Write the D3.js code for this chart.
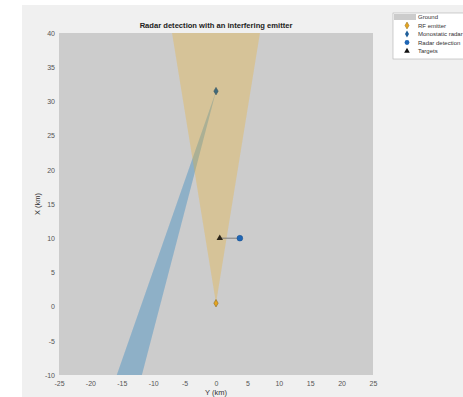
<!DOCTYPE html>
<html><head><meta charset="utf-8">
<script src="https://cdn.jsdelivr.net/npm/d3@7"></script>
<style>html,body{margin:0;padding:0;background:#fff;}svg{display:block;}</style>
</head><body><svg id="c" width="463" height="397"></svg>
<script>
// ---- data (Y = horizontal km, X = vertical km) ----
const title = "Radar detection with an interfering emitter";
const yTicks = [-25,-20,-15,-10,-5,0,5,10,15,20,25];   // horizontal axis (Y km)
const xTicks = [-10,-5,0,5,10,15,20,25,30,35,40];      // vertical axis (X km)
const emitterBeam = [[0,0.5],[-7,40],[7,40]];           // [Y, X]
const radarBeam = [[0,31.5],[-15.8,-10],[-11.8,-10]];
const emitterPos = [0,0.5];
const radarPos = [0,31.5];
const targetPos = [0.6,10];
const detectionPos = [3.8,10];
const legendLabels = ["Ground","RF emitter","Monostatic radar","Radar detection","Targets"];

const svg = d3.select("#c");
const font = "'Liberation Sans', Arial, sans-serif";
svg.append("rect").attr("x",22).attr("y",5).attr("width",441).attr("height",392).attr("fill","#f0f0f0");

const L=59,R=373,T=33,B=375;
const sx = d3.scaleLinear().domain([-25,25]).range([L,R]);
const sy = d3.scaleLinear().domain([-10,40]).range([B,T]);

svg.append("clipPath").attr("id","pc").append("rect").attr("x",L).attr("y",T).attr("width",R-L).attr("height",B-T);
const plot = svg.append("g").attr("clip-path","url(#pc)");
plot.append("rect").attr("x",L).attr("y",T).attr("width",R-L).attr("height",B-T).attr("fill","#cccccc");

const line = d3.line().x(d=>sx(d[0])).y(d=>sy(d[1]));
plot.append("path").attr("d",line(radarBeam)+"Z").attr("fill","rgba(0,114,189,0.3)");
plot.append("path").attr("d",line(emitterBeam)+"Z").attr("fill","rgba(237,177,32,0.3)");

plot.append("path").attr("d",line([targetPos,detectionPos])).attr("stroke","#7f7f7f").attr("stroke-width",1).attr("fill","none");

const diamond = d3.symbol().type(d3.symbolDiamond).size(16);
const tri = d3.symbol().type(d3.symbolTriangle).size(18);
const circ = d3.symbol().type(d3.symbolCircle).size(26);
plot.append("path").attr("d",diamond()).attr("transform",`translate(${sx(emitterPos[0])},${sy(emitterPos[1])})`).attr("fill","#e6a51f").attr("stroke","#8a6a20").attr("stroke-width",0.6);
plot.append("path").attr("d",diamond()).attr("transform",`translate(${sx(radarPos[0])},${sy(radarPos[1])})`).attr("fill","#3f6a7c").attr("stroke","#35505c").attr("stroke-width",0.6);
plot.append("path").attr("d",tri()).attr("transform",`translate(${sx(targetPos[0])},${sy(targetPos[1])})`).attr("fill","#2a2418");
plot.append("path").attr("d",circ()).attr("transform",`translate(${sx(detectionPos[0])},${sy(detectionPos[1])})`).attr("fill","#1f66b5").attr("stroke","#1a4f8a").attr("stroke-width",0.5);

const fmt = d=>String(d);
const xa = svg.append("g").attr("transform",`translate(0,${B})`).call(d3.axisBottom(sx).tickValues(yTicks).tickSize(0).tickPadding(6).tickFormat(fmt));
const ya = svg.append("g").attr("transform",`translate(${L},0)`).call(d3.axisLeft(sy).tickValues(xTicks).tickSize(0).tickPadding(4).tickFormat(fmt));
[xa,ya].forEach(a=>{a.select(".domain").remove();a.selectAll("text").attr("font-family",font).attr("font-size",7).attr("fill","#555");});

svg.append("text").attr("x",216).attr("y",395).attr("text-anchor","middle").attr("font-family",font).attr("font-size",7.5).attr("fill","#333").text("Y (km)");
svg.append("text").attr("transform","translate(40,204) rotate(-90)").attr("text-anchor","middle").attr("font-family",font).attr("font-size",7.5).attr("fill","#333").text("X (km)");
svg.append("text").attr("x",216).attr("y",28).attr("text-anchor","middle").attr("font-family",font).attr("font-size",7.6).attr("font-weight","bold").attr("fill","#222").text(title);

const lg = svg.append("g");
lg.append("rect").attr("x",393).attr("y",13).attr("width",80).attr("height",46).attr("fill","#fff").attr("stroke","#b0b0b0").attr("stroke-width",0.6);
const ly = [17,25.5,34,42.5,51];
legendLabels.forEach((t,i)=>{
  lg.append("text").attr("x",418).attr("y",ly[i]+2.3).attr("font-family",font).attr("font-size",6).attr("fill","#333").text(t);
});
lg.append("rect").attr("x",394).attr("y",14).attr("width",22).attr("height",6).attr("fill","#cccccc");
lg.append("path").attr("d",diamond.size(14)()).attr("transform",`translate(407,${ly[1]})`).attr("fill","#e6a51f").attr("stroke","#8a6a20").attr("stroke-width",0.5);
lg.append("path").attr("d",diamond.size(14)()).attr("transform",`translate(407,${ly[2]})`).attr("fill","#1f5f9a");
lg.append("path").attr("d",circ.size(18)()).attr("transform",`translate(407,${ly[3]})`).attr("fill","#1f66b5");
lg.append("path").attr("d",tri.size(14)()).attr("transform",`translate(407,${ly[4]})`).attr("fill","#111");
</script></body></html>
